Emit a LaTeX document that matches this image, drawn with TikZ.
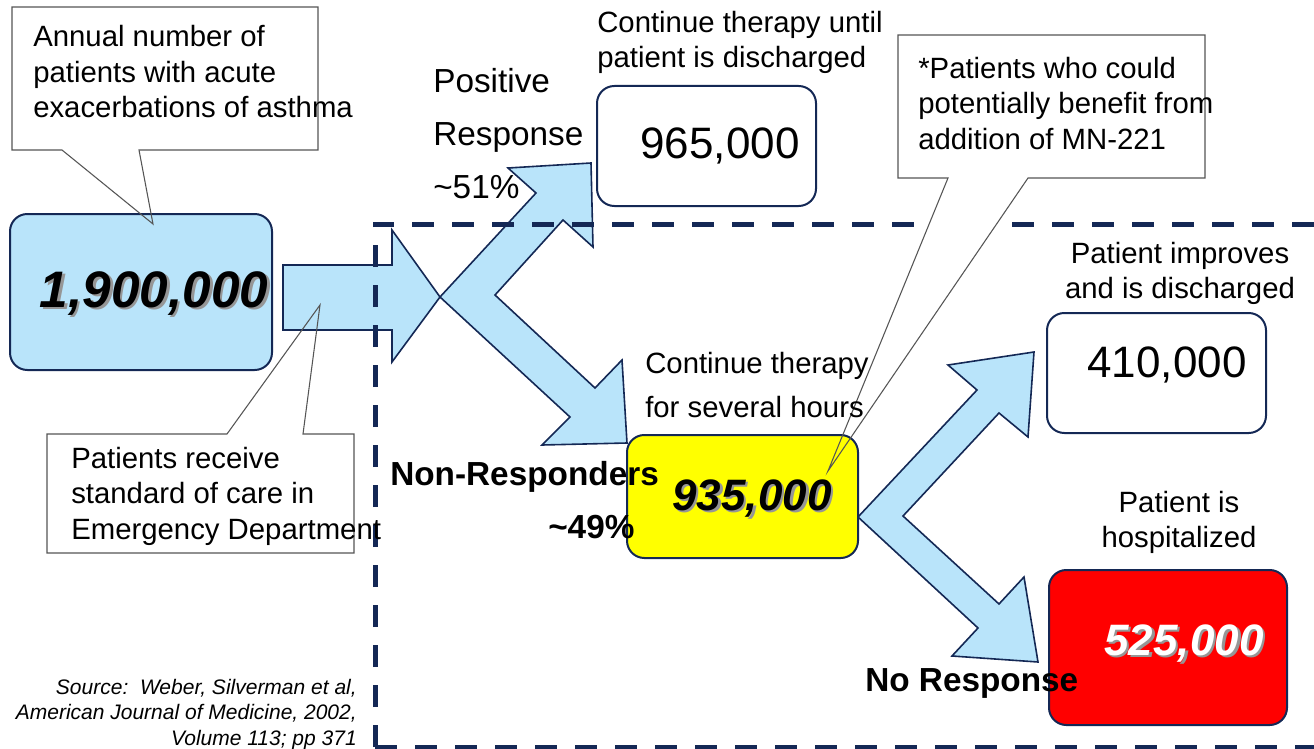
\documentclass[tikz,border=0pt]{standalone}
\usepackage{fontspec}
\setmainfont{Liberation Sans}
\definecolor{navy}{RGB}{20,40,85}
\definecolor{lblue}{RGB}{185,228,250}
\definecolor{cgrey}{RGB}{85,85,85}
\definecolor{shadowgrey}{RGB}{150,150,150}
\definecolor{byellow}{RGB}{255,255,0}
\definecolor{bred}{RGB}{255,0,0}
\begin{document}
\begin{tikzpicture}[x=0.75pt,y=-0.75pt,
  blockarrow/.style={fill=lblue, draw=navy, line width=1.2pt, line join=miter},
  numbox/.style={draw=navy, line width=1.5pt, rounded corners=13pt},
  dashedframe/.style={draw=navy, line width=3.75pt, dash pattern=on 16.5pt off 13.5pt},
  calloutfill/.style={fill=white, draw=none},
  calloutline/.style={draw=cgrey, line width=0.8pt, line join=miter},
  body/.style={inner sep=0pt, font=\fontsize{22}{26.6}\selectfont},
  boldlbl/.style={inner sep=0pt, font=\bfseries\fontsize{25}{30}\selectfont},
  bignum/.style={inner sep=0pt, font=\bfseries\itshape\fontsize{33}{40}\selectfont},
  plainnum/.style={inner sep=0pt, font=\fontsize{33}{40}\selectfont}
]
\clip (0,0) rectangle (1314,749);
\fill[white] (0,0) rectangle (1314,749);

% ---- block arrows ----
\draw[blockarrow] (283,265) -- (392,265) -- (392,230) -- (440,297) -- (392,362) -- (392,330) -- (283,330) -- cycle;
\draw[blockarrow] (440,297) -- (536,193) -- (508,168) -- (591,163) -- (593,247) -- (563,220)
   -- (495,295) -- (595,388) -- (622,360) -- (627,443) -- (542,445) -- (570,417) -- cycle;
\draw[blockarrow] (858,517) -- (977,390) -- (948,365) -- (1034,352) -- (1028,437) -- (999,413)
   -- (903,516) -- (999,604) -- (1024,577) -- (1038,662) -- (952,656) -- (978,628) -- cycle;

% ---- boxes ----
\draw[numbox, fill=lblue] (10,214) rectangle (272,370);
\draw[numbox, fill=white] (597,86) rectangle (816,206);
\draw[numbox, fill=byellow] (627,435) rectangle (858,558);
\draw[numbox, fill=white] (1047,313) rectangle (1266,433);
\draw[numbox, fill=bred] (1049,570) rectangle (1287,725);

% ---- dashed frame ----
\draw[dashedframe] (375,747) -- (375,224) -- (1330,224);
\draw[dashedframe] (375,747) -- (1330,747);

% ---- callouts ----
\begin{scope}
\clip (880,0) rectangle (1314,420);
\fill[calloutfill] (898,35) -- (1205,35) -- (1205,178) -- (1028,178) -- (828,471) -- (948,178) -- (898,178) -- cycle;
\end{scope}
\draw[calloutline] (12,7) -- (318,7) -- (318,150) -- (139,150) -- (153,224) -- (62,150) -- (12,150) -- cycle;
\draw[calloutline] (898,35) -- (1205,35) -- (1205,178) -- (1028,178) -- (828,471) -- (948,178) -- (898,178) -- cycle;
\draw[calloutline] (47,434) -- (227,434) -- (320,305) -- (303,434) -- (354,434) -- (354,553) -- (47,553) -- cycle;

% ---- texts (base anchor = last line baseline) ----
\node[body, align=left, anchor=base west] (c1t) at (33,117.5) {Annual number of\\patients with acute\\exacerbations of asthma};
\node[body, align=left, anchor=base west] (c2t) at (918,149) {*Patients who could\\potentially benefit from\\addition of MN-221};
\node[body, align=left, anchor=base west] (c3t) at (71,539) {Patients receive\\standard of care in\\Emergency Department};
\node[inner sep=0pt, align=left, anchor=base west, font=\fontsize{25}{39.75}\selectfont] (pos) at (433,198) {Positive\\Response\\\textasciitilde51\%};
\node[body, align=left, anchor=base west] (topt) at (597,68) {Continue therapy until\\patient is discharged};
\node[inner sep=0pt, align=left, anchor=base west, font=\fontsize{22}{33}\selectfont] (cont) at (645,417) {Continue therapy\\for several hours};
\node[inner sep=0pt, align=center, anchor=base, font=\fontsize{22}{26.25}\selectfont] (imp) at (1180,298) {Patient improves\\and is discharged};
\node[inner sep=0pt, align=center, anchor=base, font=\fontsize{22}{26.25}\selectfont] (hosp) at (1179,547) {Patient is\\hospitalized};
\node[inner sep=0pt, align=right, anchor=base east, font=\itshape\fontsize{15.75}{19.1}\selectfont] (src) at (357,745) {Source:\ \ Weber, Silverman et al,\\American Journal of Medicine, 2002,\\Volume 113; pp 371};

\node[boldlbl, anchor=base west] (nonr) at (390,485) {Non-Responders};
\node[boldlbl, anchor=base west] (p49) at (548,538) {\textasciitilde49\%};
\node[boldlbl, anchor=base west] (nore) at (865,691) {No Response};

% numbers
\node[bignum, font=\bfseries\itshape\fontsize{38.5}{40}\selectfont, anchor=base, text=shadowgrey] at (156.5,309.5) {1,900,000};
\node[bignum, font=\bfseries\itshape\fontsize{38.5}{40}\selectfont, anchor=base] (n1) at (154,307) {1,900,000};
\node[plainnum, anchor=base] (n2) at (720,158) {965,000};
\node[bignum, anchor=base, text=shadowgrey] at (754.5,512.5) {935,000};
\node[bignum, anchor=base] (n3) at (752,510) {935,000};
\node[plainnum, anchor=base] (n4) at (1167,377) {410,000};
\node[bignum, anchor=base, text=shadowgrey] at (1186.5,657.5) {525,000};
\node[bignum, anchor=base, text=white] (n5) at (1184,655) {525,000};
\end{tikzpicture}
\end{document}
